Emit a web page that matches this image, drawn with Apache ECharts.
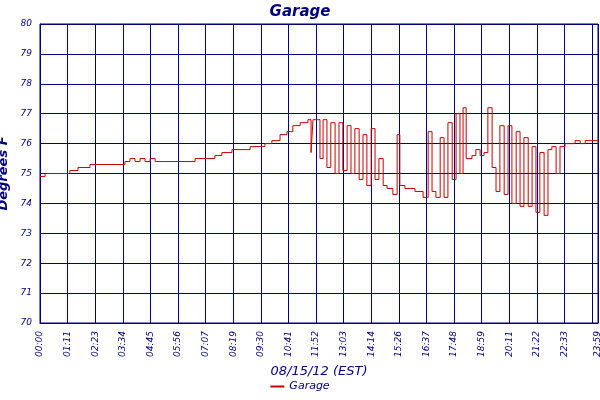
<!DOCTYPE html>
<html><head><meta charset="utf-8">
<script src="https://cdn.jsdelivr.net/npm/echarts@6/dist/echarts.min.js"></script>
<style>html,body{margin:0;padding:0;background:#fff}#c{width:600px;height:400px}</style>
</head><body><div id="c"></div>
<script>
const seriesName = 'Garage';
const minutes = [0,13,77,98,129,219,232,245,258,271,284,297,322,348,400,451,469,495,542,580,598,619,637,652,671,691,699,704,714,722,730,740,750,761,771,781,792,802,812,823,833,843,854,864,874,885,895,910,921,928,941,967,988,1001,1011,1021,1032,1042,1052,1063,1073,1083,1091,1099,1114,1124,1135,1145,1155,1166,1176,1186,1197,1207,1217,1228,1238,1248,1259,1269,1279,1289,1300,1310,1320,1331,1341,1354,1380,1393,1406,1439];
const temps = [74.9,75.0,75.1,75.2,75.3,75.4,75.5,75.4,75.5,75.4,75.5,75.4,75.4,75.4,75.5,75.6,75.7,75.8,75.9,76.0,76.1,76.3,76.4,76.6,76.7,76.8,75.7,76.8,76.8,75.5,76.8,75.2,76.7,75.0,76.7,75.1,76.6,75.0,76.5,74.8,76.3,74.6,76.5,74.8,75.5,74.6,74.5,74.3,76.3,74.6,74.5,74.4,74.2,76.4,74.4,74.2,76.2,74.2,76.7,74.8,77.0,75.0,77.2,75.5,75.6,75.8,75.6,75.7,77.2,75.2,74.4,76.6,74.3,76.6,74.0,76.4,73.9,76.2,73.9,75.9,73.7,75.7,73.6,75.8,75.9,75.0,75.9,76.0,76.1,76.0,76.1,76.1];
const xTicks = ['00:00','01:11','02:23','03:34','04:45','05:56','07:07','08:19','09:30','10:41','11:52','13:03','14:14','15:26','16:37','17:48','18:59','20:11','21:22','22:33','23:44','23:59'];
const data = minutes.map((m,i)=>[m,temps[i]]);
const navy = '#000080';
const chart = echarts.init(document.getElementById('c'));
chart.setOption({
  backgroundColor:'#fff', animation:false,
  textStyle:{fontFamily:'DejaVu Sans'},
  title:{text:'Garage',left:'center',top:0,textStyle:{color:navy,fontSize:15,fontStyle:'italic',fontWeight:'bold'}},
  grid:{left:40,right:2,top:24,bottom:77,show:true,borderColor:navy,borderWidth:1,containLabel:false,outerBoundsMode:'none'},
  legend:{bottom:3,left:'center',data:[seriesName],icon:'rect',itemWidth:14,itemHeight:2,textStyle:{color:navy,fontStyle:'italic',fontSize:11}},
  xAxis:{type:'value',min:0,max:1439,interval:71.2,
    name:'08/15/12 (EST)',nameLocation:'middle',nameGap:38,nameTextStyle:{color:navy,fontStyle:'italic',fontSize:13},
    axisLine:{lineStyle:{color:navy}},axisTick:{show:false},
    splitLine:{show:true,lineStyle:{color:navy,width:1}},
    axisLabel:{rotate:90,color:navy,fontStyle:'italic',fontSize:9,showMaxLabel:true,hideOverlap:false,
      formatter:v=>{ if(v>=1439) return xTicks[21]; return xTicks[Math.round(v/71.2)]||''; }}},
  yAxis:{type:'value',min:70,max:80,interval:1,
    name:'Degrees F',nameLocation:'middle',nameGap:24,nameTextStyle:{color:navy,fontStyle:'italic',fontWeight:'bold',fontSize:13},
    axisLine:{lineStyle:{color:navy}},axisTick:{show:false},
    splitLine:{lineStyle:{color:navy,width:1}},
    axisLabel:{color:navy,fontStyle:'italic',fontSize:9}},
  series:[{name:seriesName,type:'line',step:'end',data:data,showSymbol:false,color:'#cc0000',lineStyle:{width:1,color:'#cc0000'}}]
});
</script></body></html>
